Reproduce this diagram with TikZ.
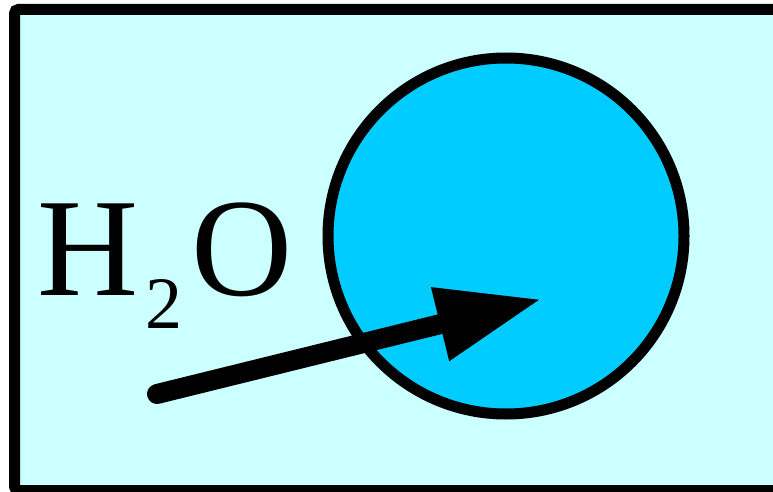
\documentclass[tikz,border=0pt]{standalone}
\usepackage{fontspec}
\setmainfont{Liberation Serif}
\usetikzlibrary{arrows.meta, positioning}
\definecolor{WaterPale}{HTML}{CCFFFF}
\definecolor{DropBlue}{HTML}{00CCFF}

\begin{document}
\begin{tikzpicture}[
    x=1pt, y=-1pt,
    tank/.style={
        draw=black,
        fill=WaterPale,
        line width=11pt,
        rounded corners=4pt
    },
    drop/.style={
        circle,
        draw=black,
        fill=DropBlue,
        line width=11pt,
        inner sep=0pt,
        minimum size=356pt
    },
    flux/.style={
        -{Triangle[length=105pt, width=70pt]},
        line width=20pt,
        line cap=round,
        draw=black
    },
    label/.style={font=\fontsize{140}{140}\selectfont, inner sep=0pt, anchor=base west}
]

\useasboundingbox (0,0) rectangle (773,492);
\clip (0,0) rectangle (773,492);

\draw[tank] (14.5,9.5) rectangle (820,490.5);

\node[drop] (cell) at (506,236) {};

\node[label] (water) at (37,295)
{H\kern7pt\raisebox{-33pt}{\fontsize{74}{74}\selectfont 2}\kern9pt O};

\coordinate (tail) at (157,394);
\coordinate (head) at (542,299);
\draw[flux] (tail) -- (head);

\end{tikzpicture}
\end{document}
